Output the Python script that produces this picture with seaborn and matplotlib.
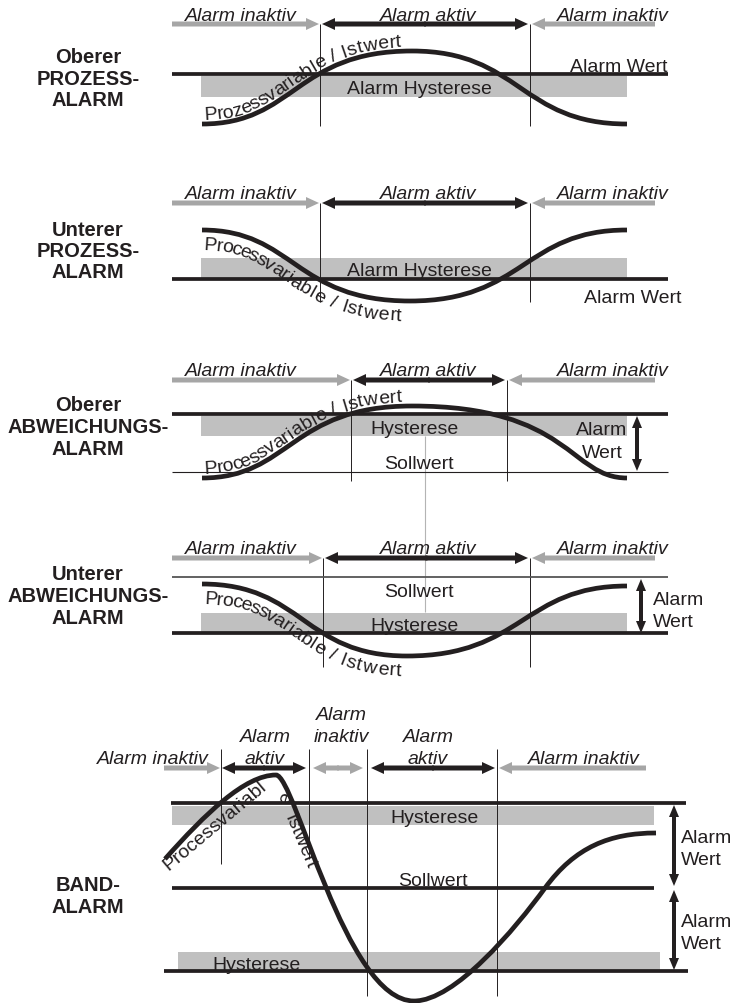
import matplotlib
matplotlib.use("Agg")
import numpy as np
import matplotlib.pyplot as plt
import seaborn as sns
from matplotlib.path import Path
from matplotlib.patches import PathPatch, FancyArrowPatch, Rectangle, ArrowStyle
from matplotlib.font_manager import FontProperties

W, H = 734, 1004
INK = "#231f20"
ARROW_GRAY = "#a6a6a6"
BAND_GRAY = "#c0c0c0"
FAMILY = ["Liberation Sans", "DejaVu Sans"]
FS = 14

# ---- panel titles on the left (text lines and their baselines)
title_lines = [["Oberer", "PROZESS-", "ALARM"],
               ["Unterer", "PROZESS-", "ALARM"],
               ["Oberer", "ABWEICHUNGS-", "ALARM"],
               ["Unterer", "ABWEICHUNGS-", "ALARM"],
               ["BAND-", "ALARM"]]
title_base = [[63, 85, 106], [236, 257, 278], [411, 433, 455], [580, 602, 624], [891, 913]]
TITLE_X = 88

# ---- status rows of the first four panels
status_labels = ["Alarm inaktiv", "Alarm aktiv", "Alarm inaktiv"]
status_label_x = [241, 428, 613]
status_text_base = [21, 199, 376, 554]
status_arrow_y = [25, 204, 381, 559]
switch_on = [320, 320, 351, 323]
switch_off = [530, 530, 507, 530]
switch_bottom = [127, 303, 482, 668]
ARROW_START, ARROW_END = 172, 655

# ---- band alarm status row
band_status_text = ["Alarm inaktiv", "Alarm", "aktiv", "Alarm", "inaktiv", "Alarm", "aktiv", "Alarm inaktiv"]
band_status_x = [153, 265, 265, 341, 341, 428, 428, 584]
band_status_base = [764, 742, 764, 720, 742, 742, 764, 764]
BAND_ARROW_Y = 769
band_arrow_from = [164, 222, 313, 371, 646]
band_arrow_to = [220, 306, 363, 495, 499]
band_arrow_color = ["gray", "black", "gray", "black", "gray"]
band_arrow_double = [False, True, True, True, False]
band_switch_x = [221, 309, 367, 497]
band_switch_bottom = [865, 860, 997, 997]
BAND_SWITCH_TOP = 750

# ---- level lines (alarm value / setpoint)
level_y = [75, 280, 415, 473, 578, 634, 804, 889, 972]
level_x0 = [172, 172, 172, 172, 172, 172, 171, 172, 164]
level_x1 = [668, 668, 668, 668, 668, 668, 686, 654, 688]
level_kind = ["thick", "thick", "thick", "thin", "mid", "thick", "thick", "thick", "thick"]

# ---- hysteresis bands
band_x0 = [201, 201, 201, 201, 172, 178]
band_x1 = [627, 627, 627, 627, 654, 660]
band_top = [77, 259, 417, 614, 807, 953]
band_bottom = [98, 279, 437, 633, 826, 971]

# ---- plain labels
label_text = ["Alarm Hysterese", "Alarm Wert", "Alarm Hysterese", "Alarm Wert",
              "Hysterese", "Sollwert", "Alarm", "Wert",
              "Sollwert", "Hysterese", "Alarm", "Wert",
              "Hysterese", "Sollwert", "Hysterese", "Alarm", "Wert", "Alarm", "Wert"]
label_x = [419, 667, 419, 681, 414, 419, 602, 602, 419, 414, 653, 653,
           435, 433, 257, 681, 681, 681, 681]
label_base = [94, 72, 276, 303, 434, 469, 435, 458, 597, 631, 605, 627,
              823, 886, 970, 843, 865, 927, 949]
label_ha = ["center", "right", "center", "right", "center", "center", "center", "center",
            "center", "center", "left", "left", "center", "center", "center",
            "left", "left", "left", "left"]

# ---- "Alarm Wert" range arrows
range_x = [637, 641, 674, 674]
range_top = [417, 580, 806, 891]
range_bottom = [472, 634, 887, 971]

# ---- process variable curves (cubic bezier control points)
curves = [
    [(202, 125), (295, 125), (295, 52), (412, 52), (520, 52), (520, 125), (627, 125)],
    [(202, 231), (294, 231), (294, 302), (410, 302), (524, 302), (524, 231), (627, 231)],
    [(202, 479), (290, 479), (290, 407), (412, 407), (570, 407), (570, 479), (627, 479)],
    [(202, 585), (303, 585), (303, 657), (407, 657), (523, 657), (523, 587), (627, 587)],
    [(165, 860), (205, 815), (245, 776), (276, 776), (295, 776), (345, 1002), (414, 1002),
     (455, 1002), (515, 930), (545, 889), (575, 848), (610, 834), (656, 834)],
]
curve_text = ["Prozessvariable / Istwert", "Processvariable / Istwert",
              "Processvariable / Istwert", "Processvariable / Istwert", None]
curve_text_start = [3, 3, 3, 3, 0]
curve_text_offset = [5, -19, 5, -19, 0]

# band alarm curve label pieces (around the sharp peak)
band_pv_text = ["Processvariabl", "e", "Istwert"]
band_pv_x = [168, 283, 300]
band_pv_y = [871, 797, 842]
band_pv_rot = [40, -105, -67]
band_pv_ha = ["left", "center", "center"]
band_pv_va = ["baseline", "center", "center"]

CONNECTOR_X, CONNECTOR_Y0, CONNECTOR_Y1 = 425, 437, 613

sns.set_theme(style="white")
plt.rcParams["font.family"] = FAMILY

fig = plt.figure(figsize=(W / 100, H / 100), dpi=100)
ax = fig.add_axes([0, 0, 1, 1])
renderer = fig.canvas.get_renderer()

f_plain = FontProperties(family=FAMILY, size=FS)
f_ital = FontProperties(family=FAMILY, size=FS, style="italic")
f_bold = FontProperties(family=FAMILY, size=14.5, weight="bold")

PT = 72 / 100  # pixels -> points


def flat_arrow(tail, tip, color, tail_w=5, head_w=12, head_l=13):
    style = ArrowStyle("simple", head_length=head_l * PT, head_width=head_w * PT,
                       tail_width=tail_w * PT)
    ax.add_patch(FancyArrowPatch(tail, tip, arrowstyle=style, color=color, lw=0,
                                 shrinkA=0, shrinkB=0, mutation_scale=1, zorder=4))


def h_arrow(x0, x1, y, color, double):
    if double:
        m = (x0 + x1) / 2
        flat_arrow((m + 1, y), (x0, y), color)
        flat_arrow((m - 1, y), (x1, y), color)
    else:
        flat_arrow((x0, y), (x1, y), color)


def v_arrow(x, y0, y1):
    m = (y0 + y1) / 2
    flat_arrow((x, m + 1), (x, y0), INK, tail_w=4, head_w=10, head_l=12)
    flat_arrow((x, m - 1), (x, y1), INK, tail_w=4, head_w=10, head_l=12)


def text_on_curve(pts, text, start, offset):
    d = np.hypot(*np.diff(pts, axis=0).T)
    s = np.concatenate([[0], np.cumsum(d)])
    for i, ch in enumerate(text):
        if ch == " ":
            continue
        right = renderer.get_text_width_height_descent(text[:i + 1], f_plain, False)[0]
        w = renderer.get_text_width_height_descent(ch, f_plain, False)[0]
        pos = start + right - w / 2
        x = np.interp(pos, s, pts[:, 0])
        y = np.interp(pos, s, pts[:, 1])
        k = int(np.clip(np.searchsorted(s, pos), 1, len(s) - 1))
        tx, ty = pts[k] - pts[k - 1]
        n = np.hypot(tx, ty)
        tx, ty = tx / n, ty / n
        ang = -np.degrees(np.arctan2(ty, tx))
        ax.text(x + ty * offset, y - tx * offset, ch, rotation=ang, rotation_mode="anchor",
                ha="center", va="baseline", fontproperties=f_plain, color=INK, zorder=6)


# titles
for lines, bases in zip(title_lines, title_base):
    for t, b in zip(lines, bases):
        ax.text(TITLE_X, b, t, ha="center", va="baseline", fontproperties=f_bold, color=INK)

# hysteresis bands
for x0, x1, t, b in zip(band_x0, band_x1, band_top, band_bottom):
    ax.add_patch(Rectangle((x0, t), x1 - x0, b - t, color=BAND_GRAY, lw=0, zorder=1))

# level lines
lw_map = {"thick": 2.7, "mid": 1.3, "thin": 0.8}
col_map = {"thick": INK, "mid": "#555555", "thin": INK}
for y, x0, x1, kind in zip(level_y, level_x0, level_x1, level_kind):
    sns.lineplot(x=[x0, x1], y=[y, y], ax=ax, color=col_map[kind], linewidth=lw_map[kind],
                 solid_capstyle="butt", zorder=3)

# status rows, panels 1-4
for tb, ay, on, off, bot in zip(status_text_base, status_arrow_y, switch_on, switch_off, switch_bottom):
    for lab, lx in zip(status_labels, status_label_x):
        ax.text(lx, tb, lab, ha="center", va="baseline", fontproperties=f_ital, color=INK)
    h_arrow(ARROW_START, on - 1, ay, ARROW_GRAY, False)
    h_arrow(on + 2, off - 2, ay, INK, True)
    h_arrow(ARROW_END, off + 2, ay, ARROW_GRAY, False)
    ax.vlines([on, off], ay, bot, color=INK, lw=0.7, zorder=2)

# band alarm status row
for t, x, b in zip(band_status_text, band_status_x, band_status_base):
    ax.text(x, b, t, ha="center", va="baseline", fontproperties=f_ital, color=INK)
for x0, x1, c, dbl in zip(band_arrow_from, band_arrow_to, band_arrow_color, band_arrow_double):
    h_arrow(x0, x1, BAND_ARROW_Y, ARROW_GRAY if c == "gray" else INK, dbl)
for x, bot in zip(band_switch_x, band_switch_bottom):
    ax.vlines(x, BAND_SWITCH_TOP, bot, color=INK, lw=0.7, zorder=2)

# connector between panels 3 and 4
ax.vlines(CONNECTOR_X, CONNECTOR_Y0, CONNECTOR_Y1, color="#b4b4b4", lw=0.8, zorder=2)

# plain labels
for t, x, b, ha in zip(label_text, label_x, label_base, label_ha):
    ax.text(x, b, t, ha=ha, va="baseline", fontproperties=f_plain, color=INK, zorder=5)

# range arrows
for x, y0, y1 in zip(range_x, range_top, range_bottom):
    v_arrow(x, y0, y1)

# curves and their labels
for pts, text, st, off in zip(curves, curve_text, curve_text_start, curve_text_offset):
    codes = [Path.MOVETO] + [Path.CURVE4] * (len(pts) - 1)
    path = Path(pts, codes)
    ax.add_patch(PathPatch(path, fill=False, edgecolor=INK, lw=3.4, capstyle="butt", zorder=4))
    if text:
        dense = np.vstack([seg(np.linspace(0, 1, 200)) for seg, _ in path.iter_bezier()])
        text_on_curve(dense, text, st, off)

for t, x, y, r, ha, va in zip(band_pv_text, band_pv_x, band_pv_y, band_pv_rot, band_pv_ha, band_pv_va):
    ax.text(x, y, t, rotation=r, rotation_mode="anchor", ha=ha, va=va,
            fontproperties=f_plain, color=INK, zorder=6)

ax.set_xlim(0, W)
ax.set_ylim(H, 0)
ax.axis("off")
fig.savefig("out.png", dpi=100, facecolor="white")
